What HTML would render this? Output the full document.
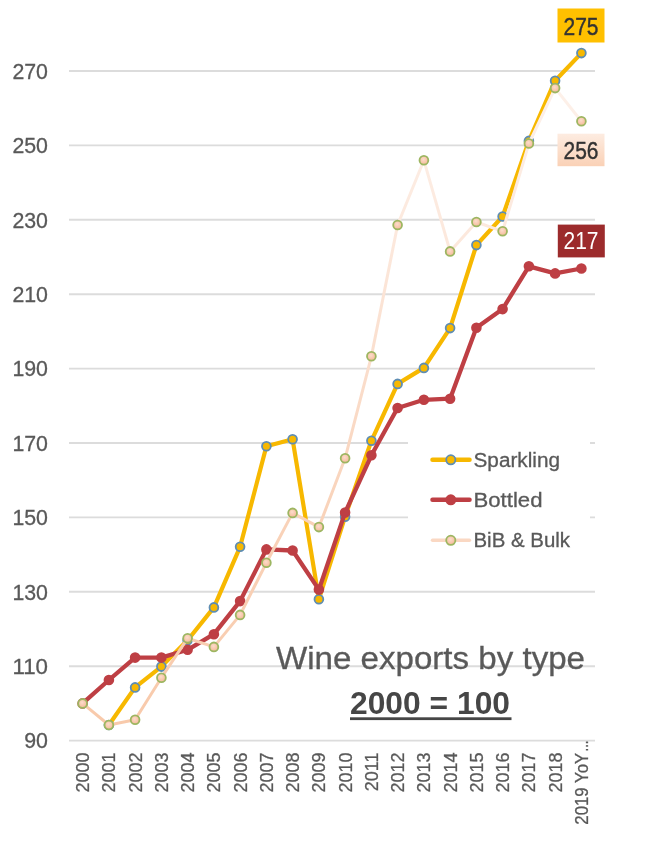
<!DOCTYPE html>
<html><head><meta charset="utf-8"><style>
html,body{margin:0;padding:0;background:#fff;}
svg{display:block;filter:blur(0.3px);}
text{font-family:"Liberation Sans",sans-serif;}
</style></head><body>
<svg width="650" height="842" viewBox="0 0 650 842">
<defs>
<linearGradient id="bibg" gradientUnits="userSpaceOnUse" x1="0" y1="740" x2="0" y2="80">
<stop offset="0" stop-color="#F8C9AA"/>
<stop offset="0.35" stop-color="#F9D3BA"/>
<stop offset="0.55" stop-color="#FADDCB"/>
<stop offset="0.75" stop-color="#FCE8DC"/>
<stop offset="1" stop-color="#FDF1EA"/>
</linearGradient>
<linearGradient id="lab256" x1="0" y1="0" x2="0" y2="1">
<stop offset="0" stop-color="#FDECE1"/>
<stop offset="1" stop-color="#FAD1B6"/>
</linearGradient>
<radialGradient id="bibm" cx="0.45" cy="0.4" r="0.6">
<stop offset="0" stop-color="#FCDCCB"/>
<stop offset="1" stop-color="#F5BA98"/>
</radialGradient>
</defs>
<rect width="650" height="842" fill="#fff"/>

<line x1="69" y1="740.6" x2="595" y2="740.6" stroke="#DCDCDC" stroke-width="1.9"/>
<line x1="69" y1="666.2" x2="595" y2="666.2" stroke="#DCDCDC" stroke-width="1.9"/>
<line x1="69" y1="591.8" x2="595" y2="591.8" stroke="#DCDCDC" stroke-width="1.9"/>
<line x1="69" y1="517.4" x2="595" y2="517.4" stroke="#DCDCDC" stroke-width="1.9"/>
<line x1="69" y1="443.0" x2="595" y2="443.0" stroke="#DCDCDC" stroke-width="1.9"/>
<line x1="69" y1="368.6" x2="595" y2="368.6" stroke="#DCDCDC" stroke-width="1.9"/>
<line x1="69" y1="294.2" x2="595" y2="294.2" stroke="#DCDCDC" stroke-width="1.9"/>
<line x1="69" y1="219.8" x2="595" y2="219.8" stroke="#DCDCDC" stroke-width="1.9"/>
<line x1="69" y1="145.4" x2="595" y2="145.4" stroke="#DCDCDC" stroke-width="1.9"/>
<line x1="69" y1="71.0" x2="595" y2="71.0" stroke="#DCDCDC" stroke-width="1.9"/>
<text x="48" y="748.4" font-size="22" fill="#595959" stroke="#595959" stroke-width="0.3" text-anchor="end" textLength="23.8" lengthAdjust="spacingAndGlyphs">90</text>
<text x="48" y="674.0" font-size="22" fill="#595959" stroke="#595959" stroke-width="0.3" text-anchor="end" textLength="35.6" lengthAdjust="spacingAndGlyphs">110</text>
<text x="48" y="599.6" font-size="22" fill="#595959" stroke="#595959" stroke-width="0.3" text-anchor="end" textLength="35.6" lengthAdjust="spacingAndGlyphs">130</text>
<text x="48" y="525.2" font-size="22" fill="#595959" stroke="#595959" stroke-width="0.3" text-anchor="end" textLength="35.6" lengthAdjust="spacingAndGlyphs">150</text>
<text x="48" y="450.8" font-size="22" fill="#595959" stroke="#595959" stroke-width="0.3" text-anchor="end" textLength="35.6" lengthAdjust="spacingAndGlyphs">170</text>
<text x="48" y="376.4" font-size="22" fill="#595959" stroke="#595959" stroke-width="0.3" text-anchor="end" textLength="35.6" lengthAdjust="spacingAndGlyphs">190</text>
<text x="48" y="302.0" font-size="22" fill="#595959" stroke="#595959" stroke-width="0.3" text-anchor="end" textLength="35.6" lengthAdjust="spacingAndGlyphs">210</text>
<text x="48" y="227.6" font-size="22" fill="#595959" stroke="#595959" stroke-width="0.3" text-anchor="end" textLength="35.6" lengthAdjust="spacingAndGlyphs">230</text>
<text x="48" y="153.2" font-size="22" fill="#595959" stroke="#595959" stroke-width="0.3" text-anchor="end" textLength="35.6" lengthAdjust="spacingAndGlyphs">250</text>
<text x="48" y="78.8" font-size="22" fill="#595959" stroke="#595959" stroke-width="0.3" text-anchor="end" textLength="35.6" lengthAdjust="spacingAndGlyphs">270</text>
<text transform="translate(89.1,752.5) rotate(-90)" font-size="18" fill="#595959" stroke="#595959" stroke-width="0.3" text-anchor="end">2000</text>
<text transform="translate(115.4,752.5) rotate(-90)" font-size="18" fill="#595959" stroke="#595959" stroke-width="0.3" text-anchor="end">2001</text>
<text transform="translate(141.6,752.5) rotate(-90)" font-size="18" fill="#595959" stroke="#595959" stroke-width="0.3" text-anchor="end">2002</text>
<text transform="translate(167.9,752.5) rotate(-90)" font-size="18" fill="#595959" stroke="#595959" stroke-width="0.3" text-anchor="end">2003</text>
<text transform="translate(194.1,752.5) rotate(-90)" font-size="18" fill="#595959" stroke="#595959" stroke-width="0.3" text-anchor="end">2004</text>
<text transform="translate(220.4,752.5) rotate(-90)" font-size="18" fill="#595959" stroke="#595959" stroke-width="0.3" text-anchor="end">2005</text>
<text transform="translate(246.6,752.5) rotate(-90)" font-size="18" fill="#595959" stroke="#595959" stroke-width="0.3" text-anchor="end">2006</text>
<text transform="translate(272.9,752.5) rotate(-90)" font-size="18" fill="#595959" stroke="#595959" stroke-width="0.3" text-anchor="end">2007</text>
<text transform="translate(299.1,752.5) rotate(-90)" font-size="18" fill="#595959" stroke="#595959" stroke-width="0.3" text-anchor="end">2008</text>
<text transform="translate(325.4,752.5) rotate(-90)" font-size="18" fill="#595959" stroke="#595959" stroke-width="0.3" text-anchor="end">2009</text>
<text transform="translate(351.6,752.5) rotate(-90)" font-size="18" fill="#595959" stroke="#595959" stroke-width="0.3" text-anchor="end">2010</text>
<text transform="translate(377.9,752.5) rotate(-90)" font-size="18" fill="#595959" stroke="#595959" stroke-width="0.3" text-anchor="end">2011</text>
<text transform="translate(404.1,752.5) rotate(-90)" font-size="18" fill="#595959" stroke="#595959" stroke-width="0.3" text-anchor="end">2012</text>
<text transform="translate(430.4,752.5) rotate(-90)" font-size="18" fill="#595959" stroke="#595959" stroke-width="0.3" text-anchor="end">2013</text>
<text transform="translate(456.6,752.5) rotate(-90)" font-size="18" fill="#595959" stroke="#595959" stroke-width="0.3" text-anchor="end">2014</text>
<text transform="translate(482.9,752.5) rotate(-90)" font-size="18" fill="#595959" stroke="#595959" stroke-width="0.3" text-anchor="end">2015</text>
<text transform="translate(509.1,752.5) rotate(-90)" font-size="18" fill="#595959" stroke="#595959" stroke-width="0.3" text-anchor="end">2016</text>
<text transform="translate(535.4,752.5) rotate(-90)" font-size="18" fill="#595959" stroke="#595959" stroke-width="0.3" text-anchor="end">2017</text>
<text transform="translate(561.6,752.5) rotate(-90)" font-size="18" fill="#595959" stroke="#595959" stroke-width="0.3" text-anchor="end">2018</text>
<text transform="translate(587.9,824.7) rotate(-90)" font-size="18" fill="#595959" stroke="#595959" stroke-width="0.3" textLength="72" lengthAdjust="spacingAndGlyphs">2019 YoY</text>
<text transform="translate(587.9,751.5) rotate(-90)" font-size="18" fill="#595959" stroke="#595959" stroke-width="0.3" textLength="11" lengthAdjust="spacingAndGlyphs">...</text>
<rect x="408" y="380" width="182" height="200" fill="#fff"/>
<text x="276" y="669.2" font-size="31" fill="#595959" stroke="#595959" stroke-width="0.3" textLength="309" lengthAdjust="spacingAndGlyphs">Wine exports by type</text>
<text x="350" y="713.6" font-size="30.5" font-weight="bold" fill="#464646" textLength="160" lengthAdjust="spacingAndGlyphs">2000 = 100</text>
<rect x="350" y="717.3" width="161.5" height="2.8" fill="#464646"/>
<polyline points="108.9,725.0 135.1,687.4 161.4,666.6 187.6,640.2 213.9,607.4 240.1,546.8 266.4,446.3 292.6,439.3 318.9,599.2 345.1,516.7 371.4,440.8 397.6,383.9 423.9,367.9 450.1,328.1 476.4,245.1 502.6,216.5 528.9,140.9 555.1,80.7 581.4,53.1" fill="none" stroke="#F7B800" stroke-width="4.2" stroke-linejoin="round" stroke-linecap="round"/><circle cx="108.9" cy="725.0" r="4.4" fill="#F7B800" stroke="#5E8DB3" stroke-width="1.8"/><circle cx="135.1" cy="687.4" r="4.4" fill="#F7B800" stroke="#5E8DB3" stroke-width="1.8"/><circle cx="161.4" cy="666.6" r="4.4" fill="#F7B800" stroke="#5E8DB3" stroke-width="1.8"/><circle cx="187.6" cy="640.2" r="4.4" fill="#F7B800" stroke="#5E8DB3" stroke-width="1.8"/><circle cx="213.9" cy="607.4" r="4.4" fill="#F7B800" stroke="#5E8DB3" stroke-width="1.8"/><circle cx="240.1" cy="546.8" r="4.4" fill="#F7B800" stroke="#5E8DB3" stroke-width="1.8"/><circle cx="266.4" cy="446.3" r="4.4" fill="#F7B800" stroke="#5E8DB3" stroke-width="1.8"/><circle cx="292.6" cy="439.3" r="4.4" fill="#F7B800" stroke="#5E8DB3" stroke-width="1.8"/><circle cx="318.9" cy="599.2" r="4.4" fill="#F7B800" stroke="#5E8DB3" stroke-width="1.8"/><circle cx="345.1" cy="516.7" r="4.4" fill="#F7B800" stroke="#5E8DB3" stroke-width="1.8"/><circle cx="371.4" cy="440.8" r="4.4" fill="#F7B800" stroke="#5E8DB3" stroke-width="1.8"/><circle cx="397.6" cy="383.9" r="4.4" fill="#F7B800" stroke="#5E8DB3" stroke-width="1.8"/><circle cx="423.9" cy="367.9" r="4.4" fill="#F7B800" stroke="#5E8DB3" stroke-width="1.8"/><circle cx="450.1" cy="328.1" r="4.4" fill="#F7B800" stroke="#5E8DB3" stroke-width="1.8"/><circle cx="476.4" cy="245.1" r="4.4" fill="#F7B800" stroke="#5E8DB3" stroke-width="1.8"/><circle cx="502.6" cy="216.5" r="4.4" fill="#F7B800" stroke="#5E8DB3" stroke-width="1.8"/><circle cx="528.9" cy="140.9" r="4.4" fill="#F7B800" stroke="#5E8DB3" stroke-width="1.8"/><circle cx="555.1" cy="80.7" r="4.4" fill="#F7B800" stroke="#5E8DB3" stroke-width="1.8"/><circle cx="581.4" cy="53.1" r="4.4" fill="#F7B800" stroke="#5E8DB3" stroke-width="1.8"/>
<polyline points="82.6,703.4 108.9,680.0 135.1,657.6 161.4,657.6 187.6,649.8 213.9,634.2 240.1,601.1 266.4,549.4 292.6,550.5 318.9,589.6 345.1,512.6 371.4,455.3 397.6,408.0 423.9,399.8 450.1,398.7 476.4,327.7 502.6,309.1 528.9,266.3 555.1,273.4 581.4,268.5" fill="none" stroke="#BE3F44" stroke-width="4.3" stroke-linejoin="round" stroke-linecap="round"/><circle cx="82.6" cy="703.4" r="4.4" fill="#BE3F44" stroke="#BE3F44" stroke-width="1.8"/><circle cx="108.9" cy="680.0" r="4.4" fill="#BE3F44" stroke="#BE3F44" stroke-width="1.8"/><circle cx="135.1" cy="657.6" r="4.4" fill="#BE3F44" stroke="#BE3F44" stroke-width="1.8"/><circle cx="161.4" cy="657.6" r="4.4" fill="#BE3F44" stroke="#BE3F44" stroke-width="1.8"/><circle cx="187.6" cy="649.8" r="4.4" fill="#BE3F44" stroke="#BE3F44" stroke-width="1.8"/><circle cx="213.9" cy="634.2" r="4.4" fill="#BE3F44" stroke="#BE3F44" stroke-width="1.8"/><circle cx="240.1" cy="601.1" r="4.4" fill="#BE3F44" stroke="#BE3F44" stroke-width="1.8"/><circle cx="266.4" cy="549.4" r="4.4" fill="#BE3F44" stroke="#BE3F44" stroke-width="1.8"/><circle cx="292.6" cy="550.5" r="4.4" fill="#BE3F44" stroke="#BE3F44" stroke-width="1.8"/><circle cx="318.9" cy="589.6" r="4.4" fill="#BE3F44" stroke="#BE3F44" stroke-width="1.8"/><circle cx="345.1" cy="512.6" r="4.4" fill="#BE3F44" stroke="#BE3F44" stroke-width="1.8"/><circle cx="371.4" cy="455.3" r="4.4" fill="#BE3F44" stroke="#BE3F44" stroke-width="1.8"/><circle cx="397.6" cy="408.0" r="4.4" fill="#BE3F44" stroke="#BE3F44" stroke-width="1.8"/><circle cx="423.9" cy="399.8" r="4.4" fill="#BE3F44" stroke="#BE3F44" stroke-width="1.8"/><circle cx="450.1" cy="398.7" r="4.4" fill="#BE3F44" stroke="#BE3F44" stroke-width="1.8"/><circle cx="476.4" cy="327.7" r="4.4" fill="#BE3F44" stroke="#BE3F44" stroke-width="1.8"/><circle cx="502.6" cy="309.1" r="4.4" fill="#BE3F44" stroke="#BE3F44" stroke-width="1.8"/><circle cx="528.9" cy="266.3" r="4.4" fill="#BE3F44" stroke="#BE3F44" stroke-width="1.8"/><circle cx="555.1" cy="273.4" r="4.4" fill="#BE3F44" stroke="#BE3F44" stroke-width="1.8"/><circle cx="581.4" cy="268.5" r="4.4" fill="#BE3F44" stroke="#BE3F44" stroke-width="1.8"/>
<polyline points="82.6,703.4 108.9,725.0 135.1,719.8 161.4,677.7 187.6,638.3 213.9,646.9 240.1,614.9 266.4,562.8 292.6,512.9 318.9,527.1 345.1,458.3 371.4,356.3 397.6,225.0 423.9,160.3 450.1,251.4 476.4,222.0 502.6,231.3 528.9,143.5 555.1,88.1 581.4,121.2" fill="none" stroke="url(#bibg)" stroke-width="3" stroke-linejoin="round" stroke-linecap="round"/><circle cx="82.6" cy="703.4" r="4.4" fill="url(#bibm)" stroke="#9DB661" stroke-width="1.8"/><circle cx="108.9" cy="725.0" r="4.4" fill="url(#bibm)" stroke="#9DB661" stroke-width="1.8"/><circle cx="135.1" cy="719.8" r="4.4" fill="url(#bibm)" stroke="#9DB661" stroke-width="1.8"/><circle cx="161.4" cy="677.7" r="4.4" fill="url(#bibm)" stroke="#9DB661" stroke-width="1.8"/><circle cx="187.6" cy="638.3" r="4.4" fill="url(#bibm)" stroke="#9DB661" stroke-width="1.8"/><circle cx="213.9" cy="646.9" r="4.4" fill="url(#bibm)" stroke="#9DB661" stroke-width="1.8"/><circle cx="240.1" cy="614.9" r="4.4" fill="url(#bibm)" stroke="#9DB661" stroke-width="1.8"/><circle cx="266.4" cy="562.8" r="4.4" fill="url(#bibm)" stroke="#9DB661" stroke-width="1.8"/><circle cx="292.6" cy="512.9" r="4.4" fill="url(#bibm)" stroke="#9DB661" stroke-width="1.8"/><circle cx="318.9" cy="527.1" r="4.4" fill="url(#bibm)" stroke="#9DB661" stroke-width="1.8"/><circle cx="345.1" cy="458.3" r="4.4" fill="url(#bibm)" stroke="#9DB661" stroke-width="1.8"/><circle cx="371.4" cy="356.3" r="4.4" fill="url(#bibm)" stroke="#9DB661" stroke-width="1.8"/><circle cx="397.6" cy="225.0" r="4.4" fill="url(#bibm)" stroke="#9DB661" stroke-width="1.8"/><circle cx="423.9" cy="160.3" r="4.4" fill="url(#bibm)" stroke="#9DB661" stroke-width="1.8"/><circle cx="450.1" cy="251.4" r="4.4" fill="url(#bibm)" stroke="#9DB661" stroke-width="1.8"/><circle cx="476.4" cy="222.0" r="4.4" fill="url(#bibm)" stroke="#9DB661" stroke-width="1.8"/><circle cx="502.6" cy="231.3" r="4.4" fill="url(#bibm)" stroke="#9DB661" stroke-width="1.8"/><circle cx="528.9" cy="143.5" r="4.4" fill="url(#bibm)" stroke="#9DB661" stroke-width="1.8"/><circle cx="555.1" cy="88.1" r="4.4" fill="url(#bibm)" stroke="#9DB661" stroke-width="1.8"/><circle cx="581.4" cy="121.2" r="4.4" fill="url(#bibm)" stroke="#9DB661" stroke-width="1.8"/>
<line x1="432.5" y1="459.8" x2="469.5" y2="459.8" stroke="#F7B800" stroke-width="4.5" stroke-linecap="round"/>
<circle cx="450.8" cy="459.8" r="4.6" fill="#F7B800" stroke="#5E8DB3" stroke-width="1.8"/>
<text x="473.5" y="467.0" font-size="20" fill="#595959" stroke="#595959" stroke-width="0.3" textLength="86.5" lengthAdjust="spacingAndGlyphs">Sparkling</text>
<line x1="432.5" y1="499.8" x2="469.5" y2="499.8" stroke="#BE3F44" stroke-width="4.5" stroke-linecap="round"/>
<circle cx="450.8" cy="499.8" r="4.6" fill="#BE3F44" stroke="#BE3F44" stroke-width="1.8"/>
<text x="473.5" y="507.0" font-size="20" fill="#595959" stroke="#595959" stroke-width="0.3" textLength="69" lengthAdjust="spacingAndGlyphs">Bottled</text>
<line x1="432.5" y1="540.3" x2="469.5" y2="540.3" stroke="#FAD8C3" stroke-width="3.4" stroke-linecap="round"/>
<circle cx="450.8" cy="540.3" r="4.6" fill="url(#bibm)" stroke="#9DB661" stroke-width="1.8"/>
<text x="473.5" y="546.6" font-size="20" fill="#595959" stroke="#595959" stroke-width="0.3" textLength="96.5" lengthAdjust="spacingAndGlyphs">BiB &amp; Bulk</text>
<rect x="557.5" y="8.5" width="47" height="34" fill="#FFC000"/>
<text x="581" y="34.7" font-size="23" fill="#333" stroke="#333" stroke-width="0.4" text-anchor="middle" textLength="35" lengthAdjust="spacingAndGlyphs">275</text>
<rect x="557.5" y="133.7" width="47" height="32.5" fill="url(#lab256)"/>
<text x="581" y="158.5" font-size="23" fill="#333" stroke="#333" stroke-width="0.4" text-anchor="middle" textLength="35" lengthAdjust="spacingAndGlyphs">256</text>
<rect x="557.8" y="224.6" width="47" height="32.8" fill="#9C2B2C"/>
<text x="581" y="249.2" font-size="23" fill="#FFFFFF" text-anchor="middle" textLength="35" lengthAdjust="spacingAndGlyphs">217</text>
</svg></body></html>
